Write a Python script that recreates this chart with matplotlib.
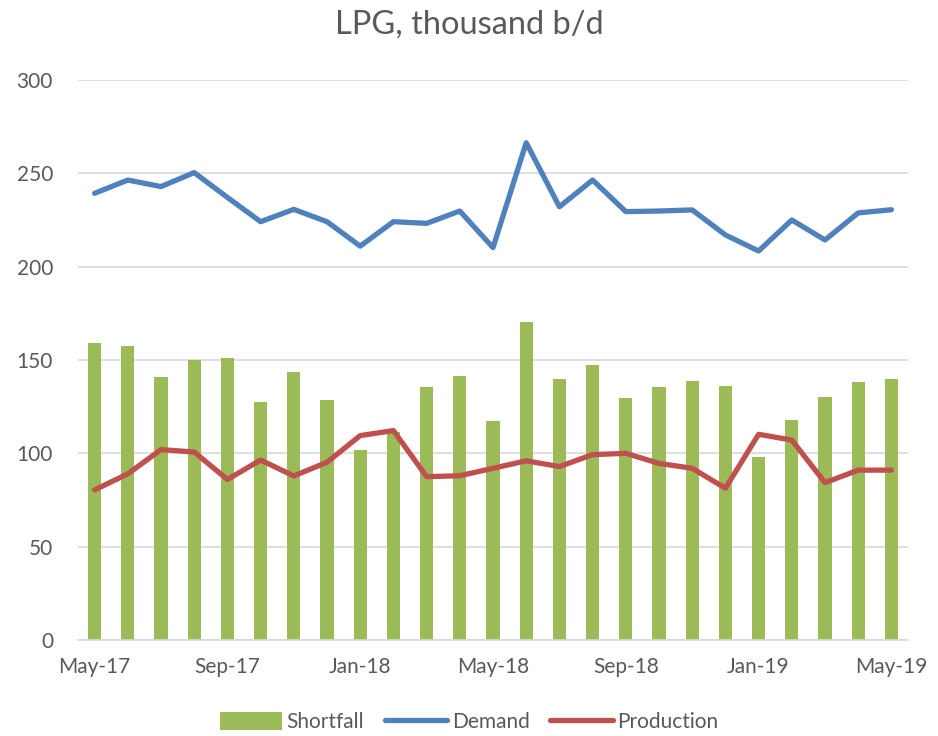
import matplotlib
matplotlib.use("Agg")
import matplotlib.pyplot as plt
import numpy as np

months = ["May-17", "Jun-17", "Jul-17", "Aug-17", "Sep-17", "Oct-17", "Nov-17", "Dec-17",
          "Jan-18", "Feb-18", "Mar-18", "Apr-18", "May-18", "Jun-18", "Jul-18", "Aug-18",
          "Sep-18", "Oct-18", "Nov-18", "Dec-18", "Jan-19", "Feb-19", "Mar-19", "Apr-19", "May-19"]
shortfall = [159, 157.5, 140.7, 150, 150.9, 127.7, 143.4, 128.7, 102, 111.5, 135.5, 141.6, 117.5,
             170.5, 139.8, 147.3, 129.5, 135.7, 138.9, 135.9, 98, 117.9, 130, 138, 139.8]
demand = [239.3, 246.4, 242.9, 250.4, 237.1, 224.1, 230.7, 224.1, 211, 224.1, 223.2, 229.8, 210.2,
          266.4, 232.1, 246.4, 229.5, 229.8, 230.4, 217, 208.4, 225, 214.3, 228.8, 230.5]
production = [80.4, 89, 102, 100.7, 86, 96.4, 87.9, 95.2, 109.5, 112.2, 87.5, 88, 92,
              96, 92.9, 99.3, 100, 94.6, 92, 81.3, 110.2, 107.1, 84.3, 91, 91]
tick_idx = [0, 4, 8, 12, 16, 20, 24]
yticks = [0, 50, 100, 150, 200, 250, 300]

plt.rcParams['font.family'] = ['Lato', 'DejaVu Sans']
txt = '#595959'

fig = plt.figure(figsize=(9.38, 7.36), dpi=100)
ax = fig.add_axes([78/938, 1-640/736, 830/938, 560/736])
x = np.arange(len(months))
b = ax.bar(x, shortfall, width=0.4, color='#9bbb59', label='Shortfall', zorder=2)
l1, = ax.plot(x, demand, color='#4f81bd', lw=3.8, label='Demand', zorder=3,
              solid_capstyle='round', solid_joinstyle='round')
l2, = ax.plot(x, production, color='#c0504d', lw=3.8, label='Production', zorder=3,
              solid_capstyle='round', solid_joinstyle='round')

ax.set_xlim(-0.5, len(months) - 0.5)
ax.set_ylim(0, 300)
ax.set_yticks(yticks)
ax.set_xticks(tick_idx)
ax.set_xticklabels([months[i] for i in tick_idx])
ax.yaxis.grid(True, color='#d9d9d9', lw=1.2, zorder=0)
ax.set_axisbelow(True)
for s in ['top', 'right', 'left']:
    ax.spines[s].set_visible(False)
ax.spines['bottom'].set_color('#d9d9d9')
ax.spines['bottom'].set_linewidth(1.2)
ax.tick_params(axis='both', length=0, labelsize=15, colors=txt)
ax.tick_params(axis='x', pad=12)
ax.tick_params(axis='y', pad=18)
fig.text(0.5, 1-25/736, 'LPG, thousand b/d', ha='center', va='center', fontsize=23.5, color=txt)
leg = fig.legend([b, l1, l2], ['Shortfall', 'Demand', 'Production'], loc='center',
                 bbox_to_anchor=(0.5, 1-722/736), ncol=3, frameon=False,
                 fontsize=15, handlelength=3.0, handleheight=1.0, columnspacing=1.0, handletextpad=0.2)
for t in leg.get_texts():
    t.set_color(txt)
fig.savefig('out.png', dpi=100)
